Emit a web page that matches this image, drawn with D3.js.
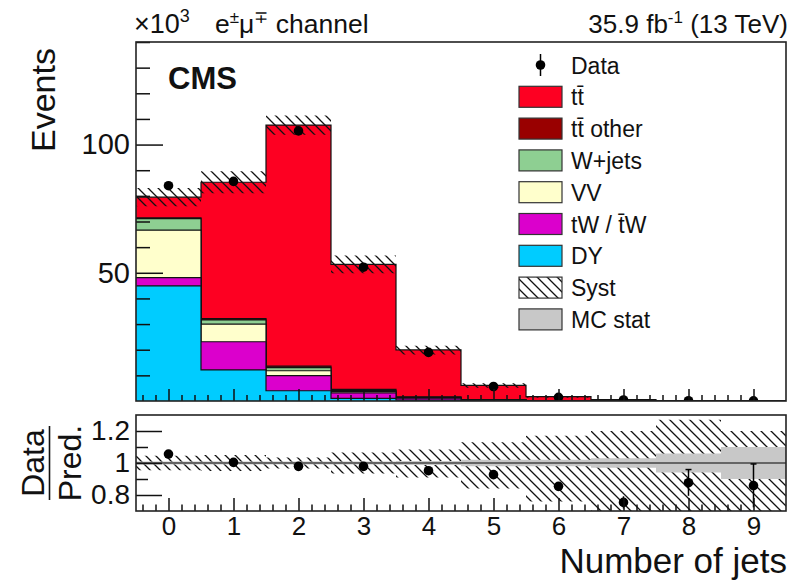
<!DOCTYPE html>
<html>
<head>
<meta charset="utf-8">
<script src="https://cdn.jsdelivr.net/npm/d3@7"></script>
<style>
  html, body { margin: 0; padding: 0; background: #fff; }
  svg { display: block; font-family: "Liberation Sans", Arial, Helvetica, sans-serif; }
</style>
</head>
<body>
<svg id="chart" width="793" height="580"></svg>
<script>
// Jet multiplicity bins
const jetBins = [0, 1, 2, 3, 4, 5, 6, 7, 8, 9];
const xTickLabels = ["0", "1", "2", "3", "4", "5", "6", "7", "8", "9"];

// Expected events per bin, by process (stacked bottom to top)
const dyEvents      = [44900, 12100, 4000, 1000, 350, 100, 30, 10, 3, 1];
const twEvents      = [3200, 11000, 5900, 2200, 800, 250, 70, 20, 5, 1];
const vvEvents      = [18500, 6900, 1900, 500, 150, 50, 15, 4, 1, 0.3];
const wjetsEvents   = [4500, 1600, 1200, 400, 100, 30, 10, 3, 1, 0.3];
const ttOtherEvents = [300, 500, 600, 400, 200, 100, 40, 15, 5, 2];
const ttEvents      = [8100, 53200, 94000, 48800, 18300, 5570, 1535, 468, 115, 42];

// Observed events
const dataEvents = [83950, 85640, 105340, 52180, 18945, 5655, 1452, 392, 114, 40];

// Relative systematic uncertainty (up / down) and MC statistical uncertainty
const systUp   = [0.045, 0.05, 0.035, 0.065, 0.085, 0.13, 0.17, 0.20, 0.27, 0.20];
const systDown = [0.045, 0.05, 0.035, 0.065, 0.09, 0.16, 0.24, 0.30, 0.35, 0.35];
const mcStat   = [0.01, 0.01, 0.01, 0.01, 0.012, 0.02, 0.02, 0.03, 0.06, 0.10];

// Main panel y ticks (in units of 10^3 events) and ratio ticks
const yMajorTicks = [50000, 100000];
const yTickLabels = ["50", "100"];
const ratioMajorTicks = [0.8, 1.0, 1.2];
const ratioTickLabels = ["0.8", "1", "1.2"];

const legendEntries = [
  { label: "Data", kind: "data" },
  { label: "tt\u0304", kind: "fill", color: "#fd0022" },
  { label: "tt\u0304 other", kind: "fill", color: "#990000" },
  { label: "W+jets", kind: "fill", color: "#8ecf92" },
  { label: "VV", kind: "fill", color: "#ffffcc" },
  { label: "tW / t\u0304W", kind: "fill", color: "#db00cc" },
  { label: "DY", kind: "fill", color: "#00ccff" },
  { label: "Syst", kind: "hatch" },
  { label: "MC stat", kind: "fill", color: "#c8c8c8" }
];

const FONT = '"Liberation Sans", Arial, Helvetica, sans-serif';
const svg = d3.select("#chart");

const plotL = 136, plotR = 786;
const mainT = 42, mainB = 401;
const ratioT = 415, ratioB = 511;

const x = d3.scaleLinear().domain([-0.5, 9.5]).range([plotL, plotR]);
const y = d3.scaleLinear().domain([0, 140000]).range([mainB, mainT]);
const yr = d3.scaleLinear().domain([0.7, 1.3]).range([ratioB, ratioT]);

const defs = svg.append("defs");
const pat = defs.append("pattern")
  .attr("id", "hatch").attr("patternUnits", "userSpaceOnUse")
  .attr("width", 10).attr("height", 10);
pat.append("path")
  .attr("d", "M-5,5 L5,15 M0,0 L10,10 M5,-5 L15,5")
  .attr("stroke", "#111").attr("stroke-width", 1.3).attr("fill", "none");

defs.append("clipPath").attr("id", "clipMain")
  .append("rect").attr("x", plotL).attr("y", mainT).attr("width", plotR - plotL).attr("height", mainB - mainT);
defs.append("clipPath").attr("id", "clipRatio")
  .append("rect").attr("x", plotL).attr("y", ratioT).attr("width", plotR - plotL).attr("height", ratioB - ratioT);

// Cumulative stack levels, bottom to top
const layers = [
  { vals: dyEvents, color: "#00ccff" },
  { vals: twEvents, color: "#db00cc" },
  { vals: vvEvents, color: "#ffffcc" },
  { vals: wjetsEvents, color: "#8ecf92" },
  { vals: ttOtherEvents, color: "#990000" },
  { vals: ttEvents, color: "#fd0022" }
];
let running = jetBins.map(() => 0);
layers.forEach(l => {
  running = running.map((v, i) => v + l.vals[i]);
  l.cum = running.slice();
});
const totalEvents = running.slice();

// step points: one per lower bin edge, plus the final upper edge
const stepPts = arr => jetBins.map((b, i) => ({ e: b - 0.5, v: arr[i] }))
  .concat([{ e: 9.5, v: arr[arr.length - 1] }]);

const mainG = svg.append("g").attr("clip-path", "url(#clipMain)");

// draw from the top level down so lower processes overlay
layers.slice().reverse().forEach(l => {
  const pts = stepPts(l.cum);
  mainG.append("path")
    .attr("d", d3.area().curve(d3.curveStepAfter).x(d => x(d.e)).y0(y(0)).y1(d => y(d.v))(pts))
    .attr("fill", l.color);
  mainG.append("path")
    .attr("d", d3.line().curve(d3.curveStepAfter).x(d => x(d.e)).y(d => y(d.v))(pts))
    .attr("fill", "none").attr("stroke", "#111").attr("stroke-width", 1.2);
});

// systematic band on the total
const systPts = jetBins.map((b, i) => ({ e: b - 0.5, lo: totalEvents[i] * (1 - systDown[i]), hi: totalEvents[i] * (1 + systUp[i]) }));
systPts.push({ e: 9.5, lo: systPts[9].lo, hi: systPts[9].hi });
mainG.append("path")
  .attr("d", d3.area().curve(d3.curveStepAfter).x(d => x(d.e)).y0(d => y(d.lo)).y1(d => y(d.hi))(systPts))
  .attr("fill", "url(#hatch)");

// data points
mainG.selectAll("circle.data").data(jetBins).enter().append("circle")
  .attr("cx", d => x(d)).attr("cy", (d, i) => y(dataEvents[i])).attr("r", 4.8).attr("fill", "#000");

// ---- ratio panel ----
const ratioG = svg.append("g").attr("clip-path", "url(#clipRatio)");
const rSyst = jetBins.map((b, i) => ({ e: b - 0.5, lo: 1 - systDown[i], hi: 1 + systUp[i] }));
rSyst.push({ e: 9.5, lo: rSyst[9].lo, hi: rSyst[9].hi });
ratioG.append("path")
  .attr("d", d3.area().curve(d3.curveStepAfter).x(d => x(d.e)).y0(d => yr(d.lo)).y1(d => yr(d.hi))(rSyst))
  .attr("fill", "url(#hatch)");
const rStat = jetBins.map((b, i) => ({ e: b - 0.5, lo: 1 - mcStat[i], hi: 1 + mcStat[i] }));
rStat.push({ e: 9.5, lo: rStat[9].lo, hi: rStat[9].hi });
ratioG.append("path")
  .attr("d", d3.area().curve(d3.curveStepAfter).x(d => x(d.e)).y0(d => yr(d.lo)).y1(d => yr(d.hi))(rStat))
  .attr("fill", "#c8c8c8");
ratioG.append("line")
  .attr("x1", plotL).attr("x2", plotR).attr("y1", yr(1)).attr("y2", yr(1))
  .attr("stroke", "#444").attr("stroke-width", 1.6);

const ratioVals = jetBins.map((b, i) => dataEvents[i] / totalEvents[i]);
const ratioErr = jetBins.map((b, i) => Math.sqrt(dataEvents[i]) / totalEvents[i]);
jetBins.forEach((b, i) => {
  const cx = x(b);
  ratioG.append("line").attr("x1", cx).attr("x2", cx)
    .attr("y1", yr(ratioVals[i] - ratioErr[i])).attr("y2", yr(ratioVals[i] + ratioErr[i]))
    .attr("stroke", "#000").attr("stroke-width", 1.5);
  if (ratioErr[i] > 0.05) {
    ratioG.append("line").attr("x1", cx - 3).attr("x2", cx + 3)
      .attr("y1", yr(ratioVals[i] + ratioErr[i])).attr("y2", yr(ratioVals[i] + ratioErr[i]))
      .attr("stroke", "#000").attr("stroke-width", 1.5);
  }
  ratioG.append("circle").attr("cx", cx).attr("cy", yr(ratioVals[i])).attr("r", 4.8).attr("fill", "#000");
});

// ---- axes and frames ----
const minorX = d3.range(-2, 48).map(k => -0.5 + 0.1 + k * 0.2).map(v => Math.round(v * 10) / 10)
  .filter(v => v > -0.5 && v < 9.5 && Math.abs(v - Math.round(v)) > 0.01);

function styleAxis(g, fontSize) {
  g.select(".domain").remove();
  g.selectAll(".tick line").attr("stroke", "#111").attr("stroke-width", 1.5);
  g.selectAll(".tick text").attr("fill", "#111").style("font-family", FONT).style("font-size", fontSize + "px");
}

// main x ticks
svg.append("g").attr("transform", `translate(0,${mainB})`)
  .call(d3.axisBottom(x).tickValues(jetBins).tickSize(-12).tickSizeOuter(0).tickFormat(""))
  .call(g => styleAxis(g, 10));
svg.append("g").attr("transform", `translate(0,${mainB})`)
  .call(d3.axisBottom(x).tickValues(minorX).tickSize(-6).tickSizeOuter(0).tickFormat(""))
  .call(g => styleAxis(g, 10));

// main y ticks
svg.append("g").attr("transform", `translate(${plotL},0)`)
  .call(d3.axisLeft(y).tickValues(yMajorTicks).tickSize(-27).tickSizeOuter(0).tickPadding(6)
    .tickFormat((d, i) => yTickLabels[i]))
  .call(g => styleAxis(g, 29));
svg.append("g").attr("transform", `translate(${plotL},0)`)
  .call(d3.axisLeft(y).tickValues(d3.range(10000, 140001, 10000).filter(v => v % 50000 !== 0))
    .tickSize(-14).tickSizeOuter(0).tickFormat(""))
  .call(g => styleAxis(g, 10));

// ratio x ticks with labels
svg.append("g").attr("transform", `translate(0,${ratioB})`)
  .call(d3.axisBottom(x).tickValues(jetBins).tickSize(-13).tickSizeOuter(0).tickPadding(5.5)
    .tickFormat((d, i) => xTickLabels[i]))
  .call(g => styleAxis(g, 26));
svg.append("g").attr("transform", `translate(0,${ratioB})`)
  .call(d3.axisBottom(x).tickValues(minorX).tickSize(-6.5).tickSizeOuter(0).tickFormat(""))
  .call(g => styleAxis(g, 10));

// ratio y ticks
svg.append("g").attr("transform", `translate(${plotL},0)`)
  .call(d3.axisLeft(yr).tickValues(ratioMajorTicks).tickSize(-26).tickSizeOuter(0).tickPadding(6)
    .tickFormat((d, i) => ratioTickLabels[i]))
  .call(g => styleAxis(g, 28));
svg.append("g").attr("transform", `translate(${plotL},0)`)
  .call(d3.axisLeft(yr).tickValues([0.9, 1.1]).tickSize(-12).tickSizeOuter(0).tickFormat(""))
  .call(g => styleAxis(g, 10));

// frames
[[mainT, mainB], [ratioT, ratioB]].forEach(([t, b]) => {
  svg.append("rect").attr("x", plotL).attr("y", t).attr("width", plotR - plotL).attr("height", b - t)
    .attr("fill", "none").attr("stroke", "#222").attr("stroke-width", 1.6);
});

// ---- texts ----
const txt = (xp, yp, s, size, opts = {}) => svg.append("text")
  .attr("x", xp).attr("y", yp).text(s)
  .style("font-family", FONT).style("font-size", size + "px")
  .attr("fill", "#111").attr("text-anchor", opts.anchor || "start")
  .style("font-weight", opts.weight || "normal");

// multiplier on y axis
const mult = txt(134, 33, "", 27);
mult.append("tspan").text("\u00d710");
mult.append("tspan").text("3").attr("dy", -11).style("font-size", "18px");

// channel label
const ch = txt(215, 33, "", 26.5);
ch.append("tspan").text("e");
ch.append("tspan").text("\u00b1").attr("dy", -10).style("font-size", "17px");
ch.append("tspan").text("\u03bc").attr("dy", 10);
ch.append("tspan").text("\u2213").attr("dy", -10).style("font-size", "17px");
ch.append("tspan").text(" channel").attr("dy", 10);

// luminosity label
const lumi = txt(788, 33, "", 26, { anchor: "end" });
lumi.append("tspan").text("35.9 fb");
lumi.append("tspan").text("-1").attr("dy", -10).style("font-size", "17px");
lumi.append("tspan").text(" (13 TeV)").attr("dy", 10);

txt(168, 89, "CMS", 31, { weight: "bold" });

// y axis titles
txt(0, 0, "Events", 34, { anchor: "middle" })
  .attr("transform", "translate(55,100) rotate(-90)");

const fracY = (ratioT + ratioB) / 2;
txt(0, 0, "Data", 32, { anchor: "middle" }).attr("transform", `translate(44,${fracY}) rotate(-90)`);
txt(0, 0, "Pred.", 32, { anchor: "middle" }).attr("transform", `translate(81,${fracY}) rotate(-90)`);
svg.append("line").attr("x1", 49.5).attr("x2", 49.5).attr("y1", fracY - 37).attr("y2", fracY + 37)
  .attr("stroke", "#111").attr("stroke-width", 1.6);

// x axis title
txt(787, 572.6, "Number of jets", 35, { anchor: "end" });

// ---- legend ----
const legX = 519, legRow0 = 65, legStep = 31.8;
legendEntries.forEach((e, i) => {
  const cy = legRow0 + i * legStep;
  if (e.kind === "data") {
    svg.append("line").attr("x1", legX + 21.5).attr("x2", legX + 21.5).attr("y1", cy - 11).attr("y2", cy + 11)
      .attr("stroke", "#000").attr("stroke-width", 1.5);
    svg.append("circle").attr("cx", legX + 21.5).attr("cy", cy).attr("r", 4.8).attr("fill", "#000");
  } else {
    svg.append("rect").attr("x", legX).attr("y", cy - 10.5).attr("width", 43).attr("height", 21)
      .attr("fill", e.kind === "hatch" ? "url(#hatch)" : e.color)
      .attr("stroke", "#333").attr("stroke-width", 1.2);
  }
  txt(571, cy + 8.5, e.label, 23);
});
</script>
</body>
</html>
